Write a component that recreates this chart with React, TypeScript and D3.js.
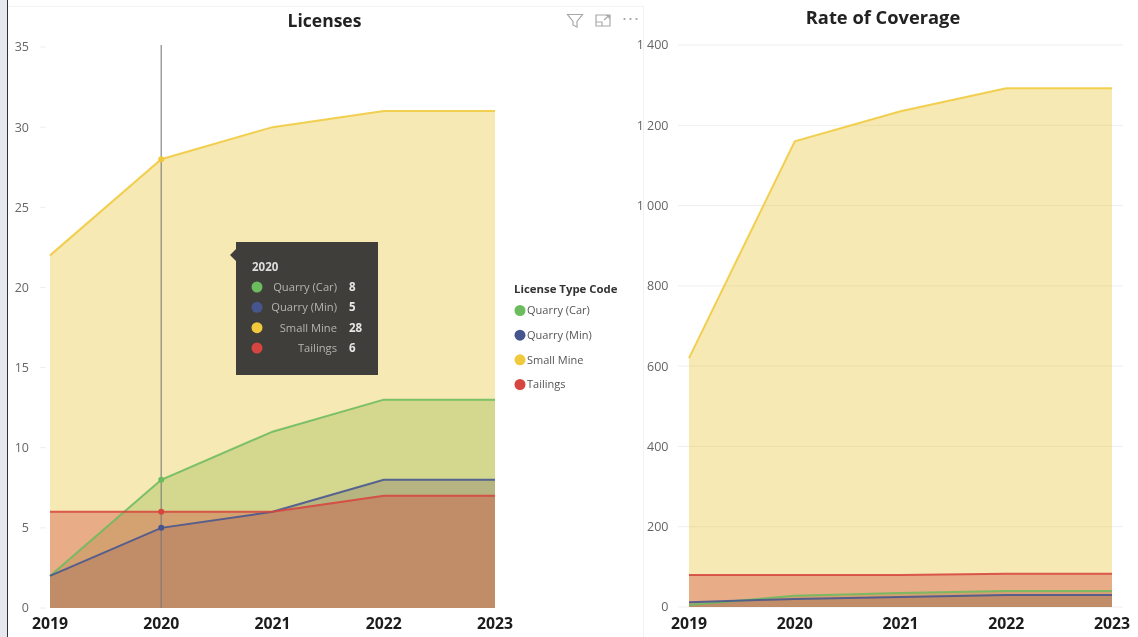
import React, { useLayoutEffect } from "react";
import * as d3 from "d3";

const years = [2019, 2020, 2021, 2022, 2023];
const seriesNames = ["Quarry (Car)", "Quarry (Min)", "Small Mine", "Tailings"];
const seriesColors = ["#6cbb5e", "#47558f", "#f0c93c", "#d6453f"];
const seriesFills = ["#83b337", "#5a4a5a", "#e8c840", "#d34a3f"];
const seriesFillOpacity = [0.3, 0.25, 0.4, 0.38];

const licCar = [2, 8, 11, 13, 13];
const licMin = [2, 5, 6, 8, 8];
const licSmall = [22, 28, 30, 31, 31];
const licTail = [6, 6, 6, 7, 7];

const covCar = [5, 28, 35, 40, 40];
const covMin = [12, 20, 25, 30, 30];
const covSmall = [620, 1160, 1235, 1292, 1292];
const covTail = [80, 80, 80, 83, 83];

const licTicks = [0, 5, 10, 15, 20, 25, 30, 35];
const covTicks = [0, 200, 400, 600, 800, 1000, 1200, 1400];
const drawOrder = [2, 0, 1, 3];
const hoverYear = 2020;

const FONT = "'Open Sans', 'Noto Sans', sans-serif";
const fmt = d3.formatLocale({ decimal: ".", thousands: " ", grouping: [3], currency: ["", ""] }).format(",");

type PanelProps = {
  values: number[][];
  ticks: number[];
  yMax: number;
  x0: number;
  x1: number;
  y0: number;
  y1: number;
  gridFrom: number;
  gridTo: number;
  labelX: number;
  hover?: number;
};

function Panel({ values, ticks, yMax, x0, x1, y0, y1, gridFrom, gridTo, labelX, hover }: PanelProps) {
  const x = d3.scalePoint<number>().domain(years).range([x0, x1]);
  const y = d3.scaleLinear().domain([0, yMax]).range([y0, y1]);
  const area = d3.area<number>().x((_, i) => x(years[i])!).y0(y0).y1((d) => y(d));
  const line = d3.line<number>().x((_, i) => x(years[i])!).y((d) => y(d));
  return (
    <g>
      {ticks.map((t) => (
        <g key={t}>
          <line x1={gridFrom} x2={gridTo} y1={y(t)} y2={y(t)} stroke="#eeeeee" strokeWidth={1} />
          <text x={labelX} y={y(t)} dy="0.35em" textAnchor="end" fontSize={12.5} fill="#666">
            {fmt(t)}
          </text>
        </g>
      ))}
      {drawOrder.map((s) => (
        <path key={s} d={area(values[s])!} fill={seriesFills[s]} fillOpacity={seriesFillOpacity[s]} />
      ))}
      {drawOrder.map((s) => (
        <path key={s} d={line(values[s])!} fill="none" stroke={seriesColors[s]} strokeOpacity={0.88} strokeWidth={2} />
      ))}
      {hover !== undefined && (
        <g>
          <line x1={x(hover)!} x2={x(hover)!} y1={y1 - 2} y2={y0} stroke="#777" strokeOpacity={0.7} strokeWidth={1.5} />
          {drawOrder.map((s) => (
            <circle key={s} cx={x(hover)!} cy={y(values[s][years.indexOf(hover)])} r={3} fill={seriesColors[s]} />
          ))}
        </g>
      )}
      {years.map((yr) => (
        <text key={yr} x={x(yr)!} y={623} dy="0.35em" textAnchor="middle" fontSize={15.8} fontWeight={700} fill="#1c1c1c">
          {yr}
        </text>
      ))}
    </g>
  );
}

function Tooltip({ values }: { values: number[][] }) {
  const idx = years.indexOf(hoverYear);
  const rowY = d3.scalePoint<number>().domain([0, 1, 2, 3]).range([287, 348]);
  return (
    <g>
      <path d="M236 242H378V375H236V261L230 255L236 249Z" fill="#3f3e3a" />
      <text x={252} y={266.5} dy="0.35em" fontSize={11.5} fontWeight={700} fill="#dddddd">
        {hoverYear}
      </text>
      {seriesNames.map((n, i) => (
        <g key={n}>
          <circle cx={257} cy={rowY(i)!} r={5.5} fill={seriesColors[i]} />
          <text x={337} y={rowY(i)!} dy="0.35em" textAnchor="end" fontSize={11.2} fill="#b5b4b0">
            {n}
          </text>
          <text x={349} y={rowY(i)!} dy="0.35em" fontSize={11.5} fontWeight={700} fill="#e6e6e6">
            {values[i][idx]}
          </text>
        </g>
      ))}
    </g>
  );
}

function Legend() {
  const rowY = d3.scalePoint<number>().domain([0, 1, 2, 3]).range([310.5, 384.5]);
  return (
    <g>
      <text x={514} y={289.5} dy="0.35em" fontSize={11.4} fontWeight={700} fill="#333">
        License Type Code
      </text>
      {seriesNames.map((n, i) => (
        <g key={n}>
          <circle cx={520} cy={rowY(i)!} r={5.5} fill={seriesColors[i]} />
          <text x={527} y={rowY(i)!} dy="0.35em" fontSize={11} fill="#555">
            {n}
          </text>
        </g>
      ))}
    </g>
  );
}

function Icons() {
  return (
    <g fill="none" stroke="#a8a8a8" strokeWidth={1.2}>
      <path d="M567.5 14.5H582.5L577 21.5V27L573 25V21.5Z" />
      <path d="M596 22V15H610V26H596V22H602V26M604 20L609 15.5M606 15.5H609V18.5" />
      <g fill="#a0a0a0" stroke="none">
        <circle cx={624.5} cy={19} r={1.1} />
        <circle cx={630.5} cy={19} r={1.1} />
        <circle cx={636.5} cy={19} r={1.1} />
      </g>
    </g>
  );
}

export default function App() {
  useLayoutEffect(() => {
    document.body.style.margin = "0";
    document.body.style.overflow = "hidden";
  }, []);
  const lic = [licCar, licMin, licSmall, licTail];
  const cov = [covCar, covMin, covSmall, covTail];
  return (
    <svg width={1138} height={637} fontFamily={FONT} style={{ display: "block", filter: "blur(0.55px)" }}>
      <rect width={1138} height={637} fill="#fff" />
      <rect width={7} height={637} fill="#e6e7ef" />
      <line x1={7.5} x2={7.5} y1={0} y2={637} stroke="#333" strokeWidth={1} />
      <line x1={8} x2={643} y1={6.5} y2={6.5} stroke="#f2f2f2" />
      <line x1={643.5} x2={643.5} y1={6} y2={637} stroke="#f2f2f2" />
      <text x={324.5} y={21} dy="0.35em" textAnchor="middle" fontSize={17.5} fontWeight={700} fill="#222">
        Licenses
      </text>
      <text x={883} y={18} dy="0.35em" textAnchor="middle" fontSize={18.3} fontWeight={700} fill="#222">
        Rate of Coverage
      </text>
      <Icons />
      <Panel values={lic} ticks={licTicks} yMax={35} x0={50} x1={495} y0={608} y1={47} gridFrom={40} gridTo={46} labelX={29} hover={hoverYear} />
      <Panel values={cov} ticks={covTicks} yMax={1400} x0={689} x1={1112} y0={607} y1={45} gridFrom={678} gridTo={1123} labelX={668.5} />
      <Tooltip values={lic} />
      <Legend />
    </svg>
  );
}
